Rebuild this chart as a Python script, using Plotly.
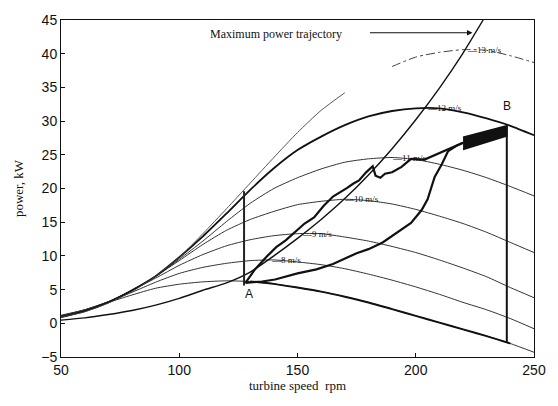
import plotly.graph_objects as go

# ---- data ----
rpm = [50, 60, 70, 80, 90, 100, 110, 120, 130, 140, 150, 160, 170, 180, 190, 200, 210, 220, 230, 240, 250]

p7 = [1.2, 2.0, 3.1, 4.2, 5.2, 5.8, 6.15, 6.3, 6.2, 5.85, 5.3, 4.7, 3.95, 3.1, 2.1, 1.1, 0.1, -0.9, -1.9, -3.0, -4.3]
p8 = [1.1, 2.0, 3.2, 4.6, 6.1, 7.4, 8.3, 8.9, 9.3, 9.4, 9.1, 8.7, 8.1, 7.3, 6.4, 5.4, 4.3, 3.1, 2.0, 0.7, -0.8]
p9 = [1.1, 2.0, 3.2, 4.9, 6.7, 8.6, 10.2, 11.5, 12.4, 13.0, 13.3, 13.3, 12.8, 12.2, 11.4, 10.5, 9.4, 8.2, 6.9, 5.3, 3.8]
p10 = [1.0, 1.9, 3.2, 4.9, 7.0, 9.3, 11.7, 13.8, 15.4, 16.6, 17.6, 18.1, 18.4, 18.2, 17.7, 16.9, 15.9, 14.8, 13.5, 12.0, 10.5]
p11 = [1.0, 1.85, 3.1, 4.8, 6.9, 9.5, 12.2, 15.1, 17.8, 20.0, 21.6, 22.9, 23.9, 24.4, 24.6, 24.3, 23.6, 22.7, 21.6, 20.3, 18.9]
p12 = [0.9, 1.8, 3.1, 4.9, 7.0, 9.8, 12.9, 16.3, 19.8, 23.0, 25.7, 27.7, 29.4, 30.7, 31.5, 31.9, 31.9, 31.3, 30.4, 29.3, 27.9]
p13 = [0.9, 1.7, 3.0, 4.7, 7.0, 9.8, 13.3, 17.0, 20.8, 24.6, 28.3, 31.6, 34.2, 36.3, 38.1, 39.5, 40.2, 40.6, 40.5, 39.7, 38.7]

mpt_rpm = [50, 60, 70, 80, 90, 100, 110, 120, 130, 140, 150, 160, 170, 180, 190, 200, 210, 220, 228.5]
mpt_kw = [0.47, 0.8, 1.3, 1.9, 2.7, 3.7, 4.9, 6.0, 7.6, 10.0, 12.6, 15.4, 18.5, 22.0, 25.9, 30.2, 34.9, 40.1, 45.0]

# measured trajectory, upper branch (A -> B)
up_rpm = [128, 132, 137, 141, 145, 149, 153, 157, 161, 165, 168, 171, 173.5, 176, 179, 181.8, 183, 185, 187, 190, 194, 198, 203.7, 209.5, 214, 220]
up_kw = [6.0, 8.0, 9.9, 11.3, 12.3, 13.6, 14.8, 15.7, 17.4, 18.8, 19.4, 20.1, 20.7, 21.2, 22.4, 23.3, 21.9, 21.6, 22.2, 22.4, 23.2, 24.4, 24.3, 25.2, 25.8, 26.8]
# measured trajectory, lower branch
lo_rpm = [128, 135, 140.5, 150, 158, 165, 175, 180, 186, 192, 198, 202.5, 205, 208, 211, 213.6, 217, 220]
lo_kw = [6.0, 6.2, 6.5, 7.4, 8.0, 8.8, 10.4, 11.0, 12.0, 13.5, 14.9, 16.8, 18.4, 21.7, 23.6, 25.5, 26.3, 26.8]
# dense band near B
band_rpm = [220, 238.5, 238.5, 220]
band_kw = [27.6, 29.3, 27.8, 25.8]
# vertical steps
stepA_rpm = [127.4, 127.4]
stepA_kw = [5.6, 19.6]
stepB_rpm = [238.5, 238.5]
stepB_kw = [29.3, -2.8]

wind_labels = ["—8 m/s", "—9 m/s", "—10 m/s", "—11 m/s", "—12 m/s", "—13 m/s"]
label_rpm = [138, 151, 169, 189, 204, 221]
label_kw = [9.4, 13.3, 18.4, 24.6, 32.0, 40.6]

fig = go.Figure()

def line(x, y, w=1.0, color="#222", dash="solid"):
    fig.add_trace(go.Scatter(x=x, y=y, mode="lines", line=dict(color=color, width=w, dash=dash, shape="spline", smoothing=0.6), hoverinfo="skip"))

line(rpm, p7, 1.0, "#333")
line(rpm, p8, 1.0, "#333")
line(rpm, p9, 1.0, "#333")
line(rpm, p10, 1.0, "#333")
line(rpm, p11, 1.0, "#333")
line(rpm, p12, 1.8, "#111")
# 13 m/s: thin on the left, dash-dot on the right
line(rpm[:13], p13[:13], 0.9, "#444")
line(rpm[14:], p13[14:], 1.0, "#444", "dashdot")

line(mpt_rpm, mpt_kw, 1.4, "#111")
# thick part of the trajectory along the 7 m/s curve
line(rpm[8:20], p7[8:20], 2.0, "#111")

fig.add_trace(go.Scatter(x=up_rpm, y=up_kw, mode="lines", line=dict(color="#111", width=2.2), hoverinfo="skip"))
fig.add_trace(go.Scatter(x=lo_rpm, y=lo_kw, mode="lines", line=dict(color="#111", width=2.2), hoverinfo="skip"))
fig.add_trace(go.Scatter(x=band_rpm, y=band_kw, mode="lines", fill="toself", fillcolor="#111", line=dict(color="#111", width=1.5), hoverinfo="skip"))
fig.add_trace(go.Scatter(x=stepA_rpm, y=stepA_kw, mode="lines", line=dict(color="#222", width=2), hoverinfo="skip"))
fig.add_trace(go.Scatter(x=stepB_rpm, y=stepB_kw, mode="lines", line=dict(color="#111", width=2), hoverinfo="skip"))

ann = []
for t, x, y in zip(wind_labels, label_rpm, label_kw):
    ann.append(dict(x=x, y=y, text=t, showarrow=False, xanchor="left", yanchor="middle",
                    font=dict(family="Liberation Serif", size=9, color="#111")))
ann.append(dict(x=129.5, y=4.3, text="A", showarrow=False, font=dict(family="Liberation Sans", size=12, color="#111")))
ann.append(dict(x=238.5, y=32.2, text="B", showarrow=False, font=dict(family="Liberation Sans", size=12, color="#111")))
ann.append(dict(x=141, y=42.9, text="Maximum power trajectory", showarrow=False,
                font=dict(family="Liberation Serif", size=12, color="#111")))
ann.append(dict(x=224, y=43.1, ax=180, ay=43.1, axref="x", ayref="y", xref="x", yref="y",
                text="", showarrow=True, arrowhead=2, arrowsize=1, arrowwidth=1.1, arrowcolor="#111"))

fig.update_layout(
    width=558, height=406,
    margin=dict(l=61, r=14, t=12, b=49),
    paper_bgcolor="white", plot_bgcolor="white",
    showlegend=False,
    annotations=ann,
    xaxis=dict(range=[50, 250], dtick=50, tick0=50, showgrid=False, zeroline=False,
               showline=True, mirror=True, linecolor="#111", linewidth=1,
               ticks="inside", ticklen=4, tickcolor="#111",
               tickfont=dict(family="Liberation Sans", size=14, color="#111"),
               title=dict(text="turbine speed  rpm", standoff=4,
                          font=dict(family="Liberation Serif", size=13, color="#111"))),
    yaxis=dict(range=[-5, 45], dtick=5, tick0=-5, showgrid=False, zeroline=False,
               showline=True, mirror=True, linecolor="#111", linewidth=1,
               ticks="inside", ticklen=4, tickcolor="#111",
               tickfont=dict(family="Liberation Sans", size=14, color="#111"),
               title=dict(text="power, kW", standoff=14,
                          font=dict(family="Liberation Serif", size=13, color="#111"))),
)

fig.write_html("out.html")
